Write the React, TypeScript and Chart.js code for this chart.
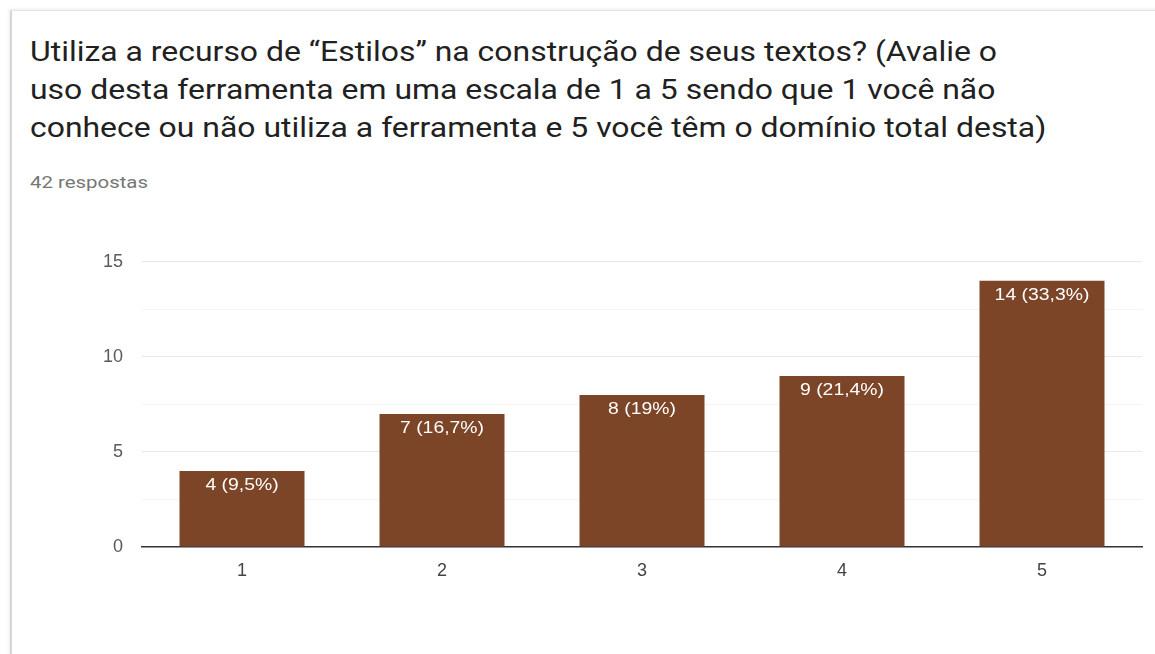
import React, { useEffect, useRef } from "react";
import { Chart, registerables } from "chart.js";

Chart.register(...registerables);

const titleLines = [
  "Utiliza a recurso de “Estilos” na construção de seus textos? (Avalie o",
  "uso desta ferramenta em uma escala de 1 a 5 sendo que 1 você não",
  "conhece ou não utiliza a ferramenta e 5 você têm o domínio total desta)",
];
const subtitle = "42 respostas";
const categories = ["1", "2", "3", "4", "5"];
const counts = [4, 7, 8, 9, 14];
const percentLabels = ["9,5%", "16,7%", "19%", "21,4%", "33,3%"];
const yTicks = [0, 5, 10, 15];

const BAR_COLOR = "#7d4527";
const STRETCH = 1.14;

const barLabelPlugin = {
  id: "barLabels",
  afterDatasetsDraw(chart: any) {
    const ctx = chart.ctx;
    const meta = chart.getDatasetMeta(0);
    meta.data.forEach((bar: any, i: number) => {
      ctx.save();
      ctx.translate(bar.x, bar.y + 14);
      ctx.scale(STRETCH, 1);
      ctx.fillStyle = "#ffffff";
      ctx.font = "17px Arial, 'Liberation Sans', sans-serif";
      ctx.textAlign = "center";
      ctx.textBaseline = "middle";
      ctx.fillText(`${counts[i]} (${percentLabels[i]})`, 0, 0);
      ctx.restore();
    });
  },
};

export default function App() {
  const canvasRef = useRef<HTMLCanvasElement | null>(null);

  useEffect(() => {
    if (!canvasRef.current) return;
    const chart = new Chart(canvasRef.current, {
      type: "bar",
      data: {
        labels: categories,
        datasets: [
          {
            data: counts,
            backgroundColor: BAR_COLOR,
            barPercentage: 0.625,
            categoryPercentage: 1,
          },
        ],
      },
      plugins: [barLabelPlugin],
      options: {
        animation: false,
        responsive: false,
        maintainAspectRatio: false,
        layout: { padding: { top: 8, right: 13, left: 0, bottom: 0 } },
        plugins: {
          legend: { display: false },
          tooltip: { enabled: false },
          title: { display: false },
        },
        scales: {
          x: {
            grid: { display: false, drawTicks: false },
            border: { display: true, color: "#333333", width: 1.5 },
            ticks: {
              color: "#444444",
              padding: 13,
              font: { family: "Arial, 'Liberation Sans', sans-serif", size: 18 },
            },
            afterFit: (scale: any) => {
              scale.height = 53;
            },
          },
          y: {
            min: 0,
            max: 15,
            grid: {
              drawTicks: false,
              color: (c: any) => {
                const v = c.tick ? c.tick.value : 0;
                if (v === 0) return "rgba(0,0,0,0)";
                return v % 5 === 0 ? "#e8e8e8" : "#f4f4f4";
              },
            },
            border: { display: false },
            ticks: {
              stepSize: 2.5,
              color: "#5a5a5a",
              padding: 19,
              font: { family: "Arial, 'Liberation Sans', sans-serif", size: 18 },
              callback: (v: any) => (yTicks.includes(Number(v)) ? String(v) : ""),
            },
            afterFit: (scale: any) => {
              scale.width = 122;
            },
          },
        },
      },
    });
    return () => chart.destroy();
  }, []);

  return (
    <div
      style={{
        position: "fixed",
        left: 0,
        top: 0,
        width: 1155,
        height: 654,
        background: "#ffffff",
        overflow: "hidden",
      }}
    >
      <div
        style={{
          position: "absolute",
          left: 10,
          top: 10,
          right: -4,
          bottom: -4,
          borderLeft: "2px solid #d6d6d6",
          borderTop: "1px solid #e6e6e6",
          boxShadow: "-1px -1px 3px rgba(0,0,0,0.08)",
          background: "#fff",
        }}
      />
      <div
        style={{
          position: "absolute",
          left: 30,
          top: 33,
          fontFamily: "Roboto, 'Noto Sans', sans-serif",
          fontSize: 28,
          lineHeight: "38px",
          color: "#212121",
          whiteSpace: "nowrap",
          transform: `scaleX(${STRETCH})`,
          transformOrigin: "left top",
        }}
      >
        {titleLines.map((t, i) => (
          <div key={i}>{t}</div>
        ))}
      </div>
      <div
        style={{
          position: "absolute",
          left: 30,
          top: 172,
          fontFamily: "Roboto, 'Noto Sans', sans-serif",
          fontSize: 17,
          lineHeight: "20px",
          color: "#767676",
          whiteSpace: "nowrap",
          transform: "scaleX(1.2)",
          transformOrigin: "left top",
        }}
      >
        {subtitle}
      </div>
      <canvas
        ref={canvasRef}
        width={1135}
        height={368}
        style={{ position: "absolute", left: 20, top: 232, width: 1135, height: 368 }}
      />
    </div>
  );
}
